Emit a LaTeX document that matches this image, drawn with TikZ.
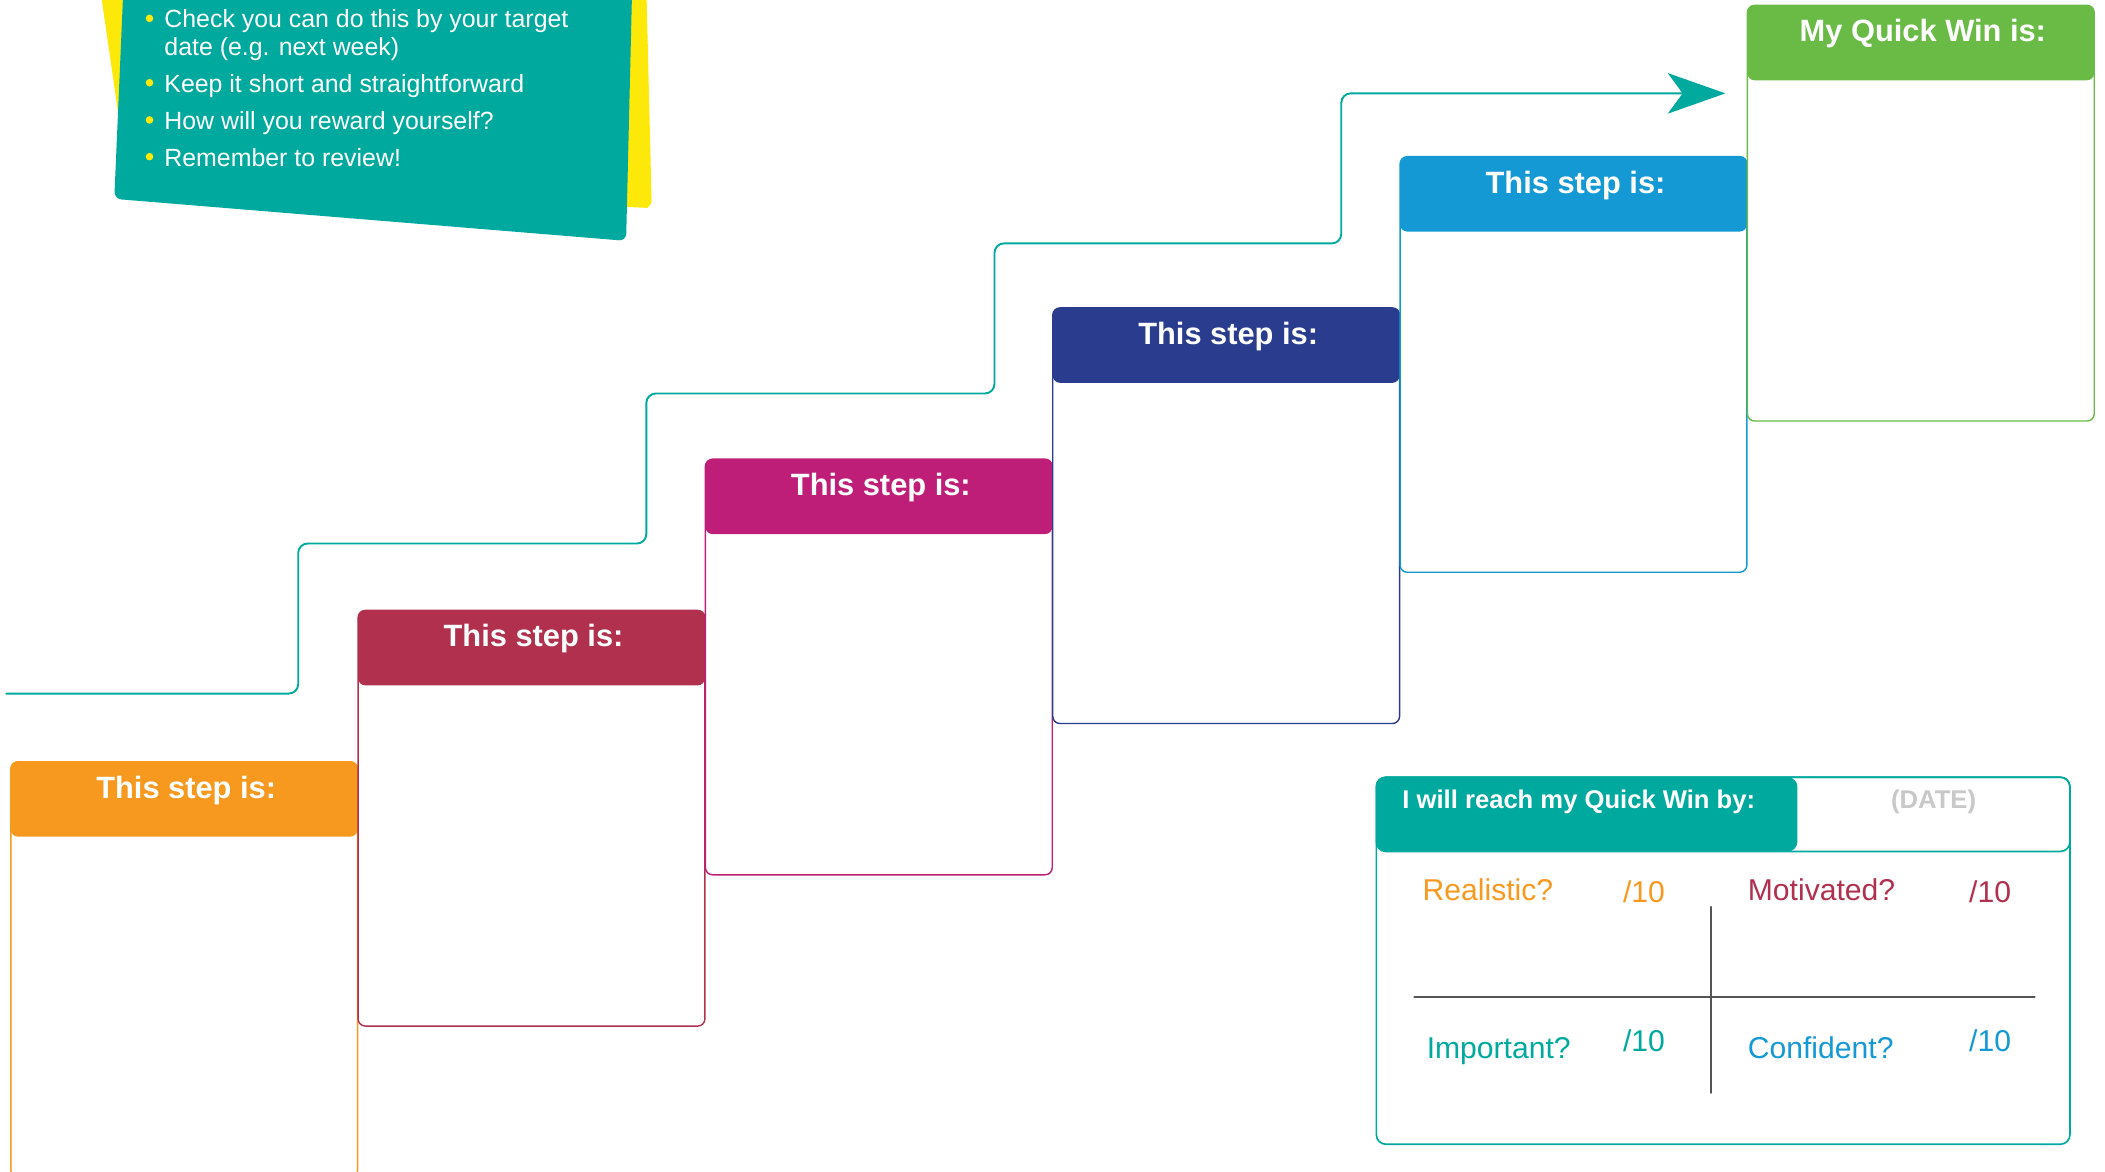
\documentclass[tikz,border=0pt]{standalone}
\usepackage{fontspec}
\setmainfont{Liberation Sans}
\usetikzlibrary{arrows.meta}

\definecolor{qwteal}{HTML}{00A99D}
\definecolor{qwyellow}{HTML}{FCE90A}
\definecolor{qworange}{HTML}{F7991E}
\definecolor{qwmaroon}{HTML}{B0304E}
\definecolor{qwmagenta}{HTML}{BE1E77}
\definecolor{qwnavy}{HTML}{2A3C8E}
\definecolor{qwblue}{HTML}{1499D5}
\definecolor{qwgreen}{HTML}{69BB46}
\definecolor{qwgray}{HTML}{C8C8C8}
\definecolor{qwdark}{HTML}{555555}

\tikzset{
  steplabel/.style={anchor=base, inner sep=0pt, text=white, font=\fontsize{13}{15}\selectfont\bfseries},
  tipitem/.style={anchor=north west, inner sep=0pt, align=left, text=white, font=\fontsize{10.5}{11.7}\selectfont},
  quadlabel/.style={anchor=base west, inner sep=0pt, font=\fontsize{12.7}{15}\selectfont},
  stairline/.style={qwteal, line width=0.8pt, rounded corners=4pt},
}

\begin{document}
\begin{tikzpicture}[line cap=round, line join=round, x=0.02cm, y=-0.02cm]
  \useasboundingbox (0,0) rectangle (1560,868);
  % tips card
  \fill[qwyellow, rounded corners=3pt] (74,-10) -- (95,135) -- (478,154) -- (483,154) -- (479,-10) -- cycle;
  \fill[qwteal, rounded corners=3pt] (91.5,-10) -- (84.7,147.4) -- (464,178.5) -- (468.5,-10) -- cycle;
  \foreach \yy in {13.6, 61.3, 88.9, 116.1}
    \fill[qwyellow] (110.8,\yy) circle (1.6pt);
  \node[tipitem] (tipA) at (121.5,6.9) {Check you can do this by your target\\date (e.g. next week)};
  \foreach \nm/\yy/\txt in {tipB/54.6/Keep it short and straightforward, tipC/82.2/How will you reward yourself?, tipD/109.4/Remember to review!}
    \node[tipitem] (\nm) at (121.5,\yy) {\txt};

  % steps
  \foreach \i/\nm/\col/\txt in {0/stepA/qworange/This step is:, 1/stepB/qwmaroon/This step is:, 2/stepC/qwmagenta/This step is:, 3/stepD/qwnavy/This step is:, 4/stepE/qwblue/This step is:, 5/win/qwgreen/My Quick Win is:}{
    \pgfmathsetmacro{\xl}{8+257.4*\i}
    \pgfmathsetmacro{\yt}{564.5-112.1*\i}
    \draw[\col, line width=0.6pt, rounded corners=3pt] (\xl,\yt) rectangle (\xl+257,\yt+308);
    \fill[\col, rounded corners=3pt] (\xl,\yt) rectangle (\xl+257,\yt+55.5);
    \node[steplabel] (\nm) at (\xl+130,\yt+27) {\txt};
  }

  % staircase arrow
  \coordinate (start) at (4.6,514);
  \coordinate (goal) at (1278.7,69.2);
  \draw[stairline, -{Stealth[length=0.854cm, width=0.6cm, inset=0.22cm]}]
    (start) -| (221,402.8) -| (479,291.6) -| (737,180.4) -| (994,69.2) -- (goal);

  % date and rating panel
  \draw[qwteal, line width=0.7pt, rounded corners=4pt] (1020,576) rectangle (1534,848);
  \draw[qwteal, line width=0.7pt, rounded corners=4pt] (1020,576) rectangle (1534,631);
  \fill[qwteal, rounded corners=4pt] (1020,576) rectangle (1332,631);
  \node[anchor=base west, inner sep=0pt, text=white, font=\fontsize{10.8}{13}\selectfont\bfseries] (reach) at (1039,599) {I will reach my Quick Win by:};
  \node[anchor=base, inner sep=0pt, text=qwgray, font=\fontsize{10.8}{13}\selectfont\bfseries] (date) at (1433,599) {(DATE)};
  \draw[qwdark, line width=0.6pt] (1048,739) -- (1508,739);
  \draw[qwdark, line width=0.6pt] (1268,672) -- (1268,810);
  \node[quadlabel, text=qworange] (realistic) at (1054,667) {Realistic?};
  \node[quadlabel, text=qworange] (scoreA) at (1202.5,669) {/10};
  \node[quadlabel, text=qwmaroon] (motivated) at (1295,667) {Motivated?};
  \node[quadlabel, text=qwmaroon] (scoreB) at (1459,669) {/10};
  \node[quadlabel, text=qwteal] (important) at (1057,784.5) {Important?};
  \node[quadlabel, text=qwteal] (scoreC) at (1202.5,779.6) {/10};
  \node[quadlabel, text=qwblue] (confident) at (1295,784.5) {Confident?};
  \node[quadlabel, text=qwblue] (scoreD) at (1459,779.6) {/10};
\end{tikzpicture}
\end{document}
